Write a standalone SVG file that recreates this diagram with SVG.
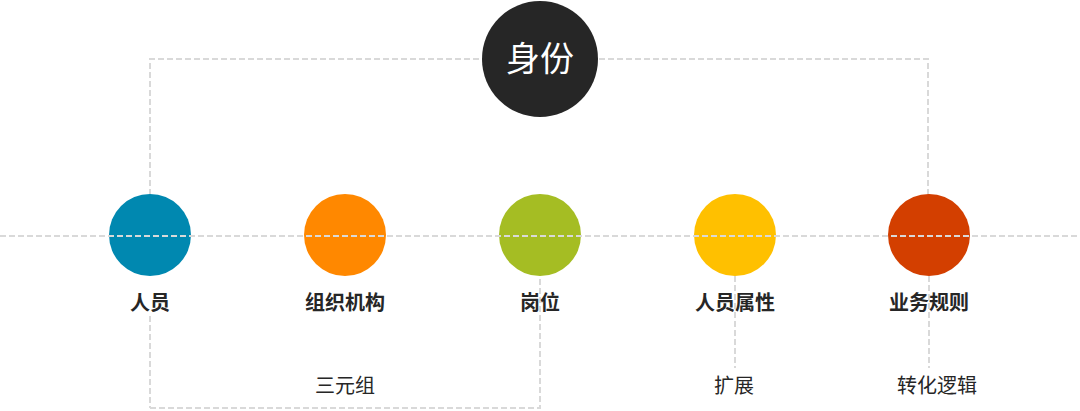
<svg xmlns="http://www.w3.org/2000/svg" width="1080" height="411" viewBox="0 0 1080 411">
<style>
.dash{fill:none;stroke:#D9D9D9;stroke-width:2;stroke-dasharray:6 3}
.lbl{font-family:"Noto Sans CJK SC","Noto Sans",sans-serif;font-size:20px;font-weight:bold;fill:#262626;text-anchor:middle}
.sub{font-family:"Noto Sans CJK SC","Noto Sans",sans-serif;font-size:20px;fill:#262626;text-anchor:middle}
</style>
<rect width="1080" height="411" fill="#FFFFFF"/>
<g id="connectors-under">
<polyline class="dash" points="150,195 150,59 928,59 928,195"/>
<line class="dash" x1="150" y1="316" x2="150" y2="408"/>
<polyline class="dash" points="150,408 540,408 540,275"/>
<line class="dash" x1="735" y1="276" x2="735" y2="368"/>
<line class="dash" x1="929" y1="276" x2="929" y2="368"/>
</g>
<g id="identity">
<circle cx="540" cy="59" r="58" fill="#262626"/>
<text x="540" y="71" font-family="Noto Sans CJK SC,sans-serif" font-size="34" fill="#FFFFFF" text-anchor="middle">身份</text>
</g>
<g id="n-person"><circle cx="150" cy="235" r="41" fill="#0088B0"/><text class="lbl" x="150" y="310">人员</text></g>
<g id="n-org"><circle cx="345" cy="235" r="41" fill="#FF8800"/><text class="lbl" x="345" y="310">组织机构</text></g>
<g id="n-post"><circle cx="540" cy="235" r="41" fill="#A5BD23"/><text class="lbl" x="540" y="310">岗位</text></g>
<g id="n-attr"><circle cx="735" cy="235" r="41" fill="#FFC000"/><text class="lbl" x="735" y="310">人员属性</text></g>
<g id="n-rule"><circle cx="929" cy="235" r="41" fill="#D33F00"/><text class="lbl" x="929" y="310">业务规则</text></g>
<g id="connectors-over">
<line class="dash" x1="0" y1="236" x2="1080" y2="236"/>
</g>
<g id="sublabels">
<text class="sub" x="345" y="393">三元组</text>
<text class="sub" x="734" y="393">扩展</text>
<text class="sub" x="937" y="393">转化逻辑</text>
</g>
</svg>
